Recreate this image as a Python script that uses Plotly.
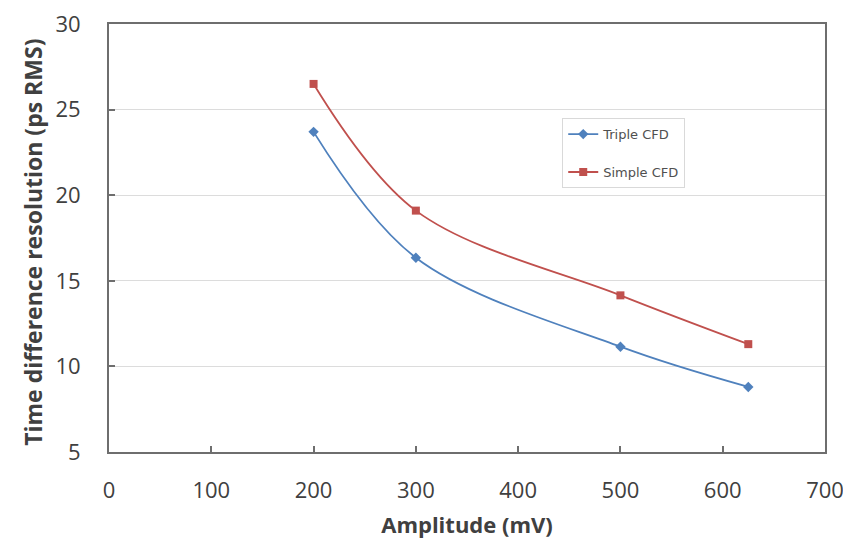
import plotly.graph_objects as go

amplitude = [200, 300, 500, 625]
triple_cfd = [23.7, 16.35, 11.15, 8.8]
simple_cfd = [26.5, 19.1, 14.15, 11.3]
x_ticks = [0, 100, 200, 300, 400, 500, 600, 700]
y_ticks = [5, 10, 15, 20, 25, 30]

fig = go.Figure()
fig.add_trace(go.Scatter(
    x=amplitude, y=triple_cfd, name="Triple CFD", mode="lines+markers",
    line=dict(color="#4F81BD", width=1.8, shape="spline", smoothing=1.0),
    marker=dict(symbol="diamond", size=8, color="#4F81BD"),
    legendgroup="a"))
fig.add_trace(go.Scatter(
    x=amplitude, y=simple_cfd, name="Simple CFD", mode="lines+markers",
    line=dict(color="#C0504D", width=1.8, shape="spline", smoothing=1.0),
    marker=dict(symbol="square", size=8, color="#C0504D"),
    legendgroup="b"))

fig.update_layout(
    width=851, height=541,
    margin=dict(l=101, r=34, t=16, b=97, autoexpand=False),
    paper_bgcolor="white", plot_bgcolor="white",
    font=dict(family="Open Sans, Liberation Sans, sans-serif", color="#404040", size=14),
    showlegend=True,
    legend=dict(x=0.633, y=0.78, xanchor="left", yanchor="top",
                bgcolor="white", bordercolor="#D9D9D9", borderwidth=1,
                font=dict(family="DejaVu Sans, sans-serif", size=13, color="#505050"),
                tracegroupgap=18, itemwidth=30),
    xaxis=dict(range=[0, 700], tickvals=x_ticks, showgrid=False, automargin=False,
               showline=True, linecolor="#6E6E6E", linewidth=2, mirror=True,
               ticks="inside", ticklen=6, tickcolor="#6E6E6E", tickwidth=1.5,
               ticklabelstandoff=18, ticklabeloverflow="allow",
               title=dict(text="<b>Amplitude (mV)</b>", font=dict(size=22, color="#404040"), standoff=14),
               tickfont=dict(size=22, color="#404040"), zeroline=False),
    yaxis=dict(range=[5, 30], tickvals=y_ticks, showgrid=True, gridcolor="#DCDCDC", automargin=False,
               showline=True, linecolor="#6E6E6E", linewidth=2, mirror=True,
               ticks="inside", ticklen=6, tickcolor="#6E6E6E", tickwidth=1.5,
               ticklabelstandoff=22, ticklabeloverflow="allow",
               tickfont=dict(size=22, color="#404040"), zeroline=False),
    annotations=[dict(text="<b>Time difference resolution (ps RMS)</b>", textangle=-90,
                      xref="paper", yref="paper", x=-0.106, y=0.489,
                      xanchor="center", yanchor="middle", showarrow=False,
                      font=dict(size=23, color="#404040"))],
)
fig.write_html("out.html")
